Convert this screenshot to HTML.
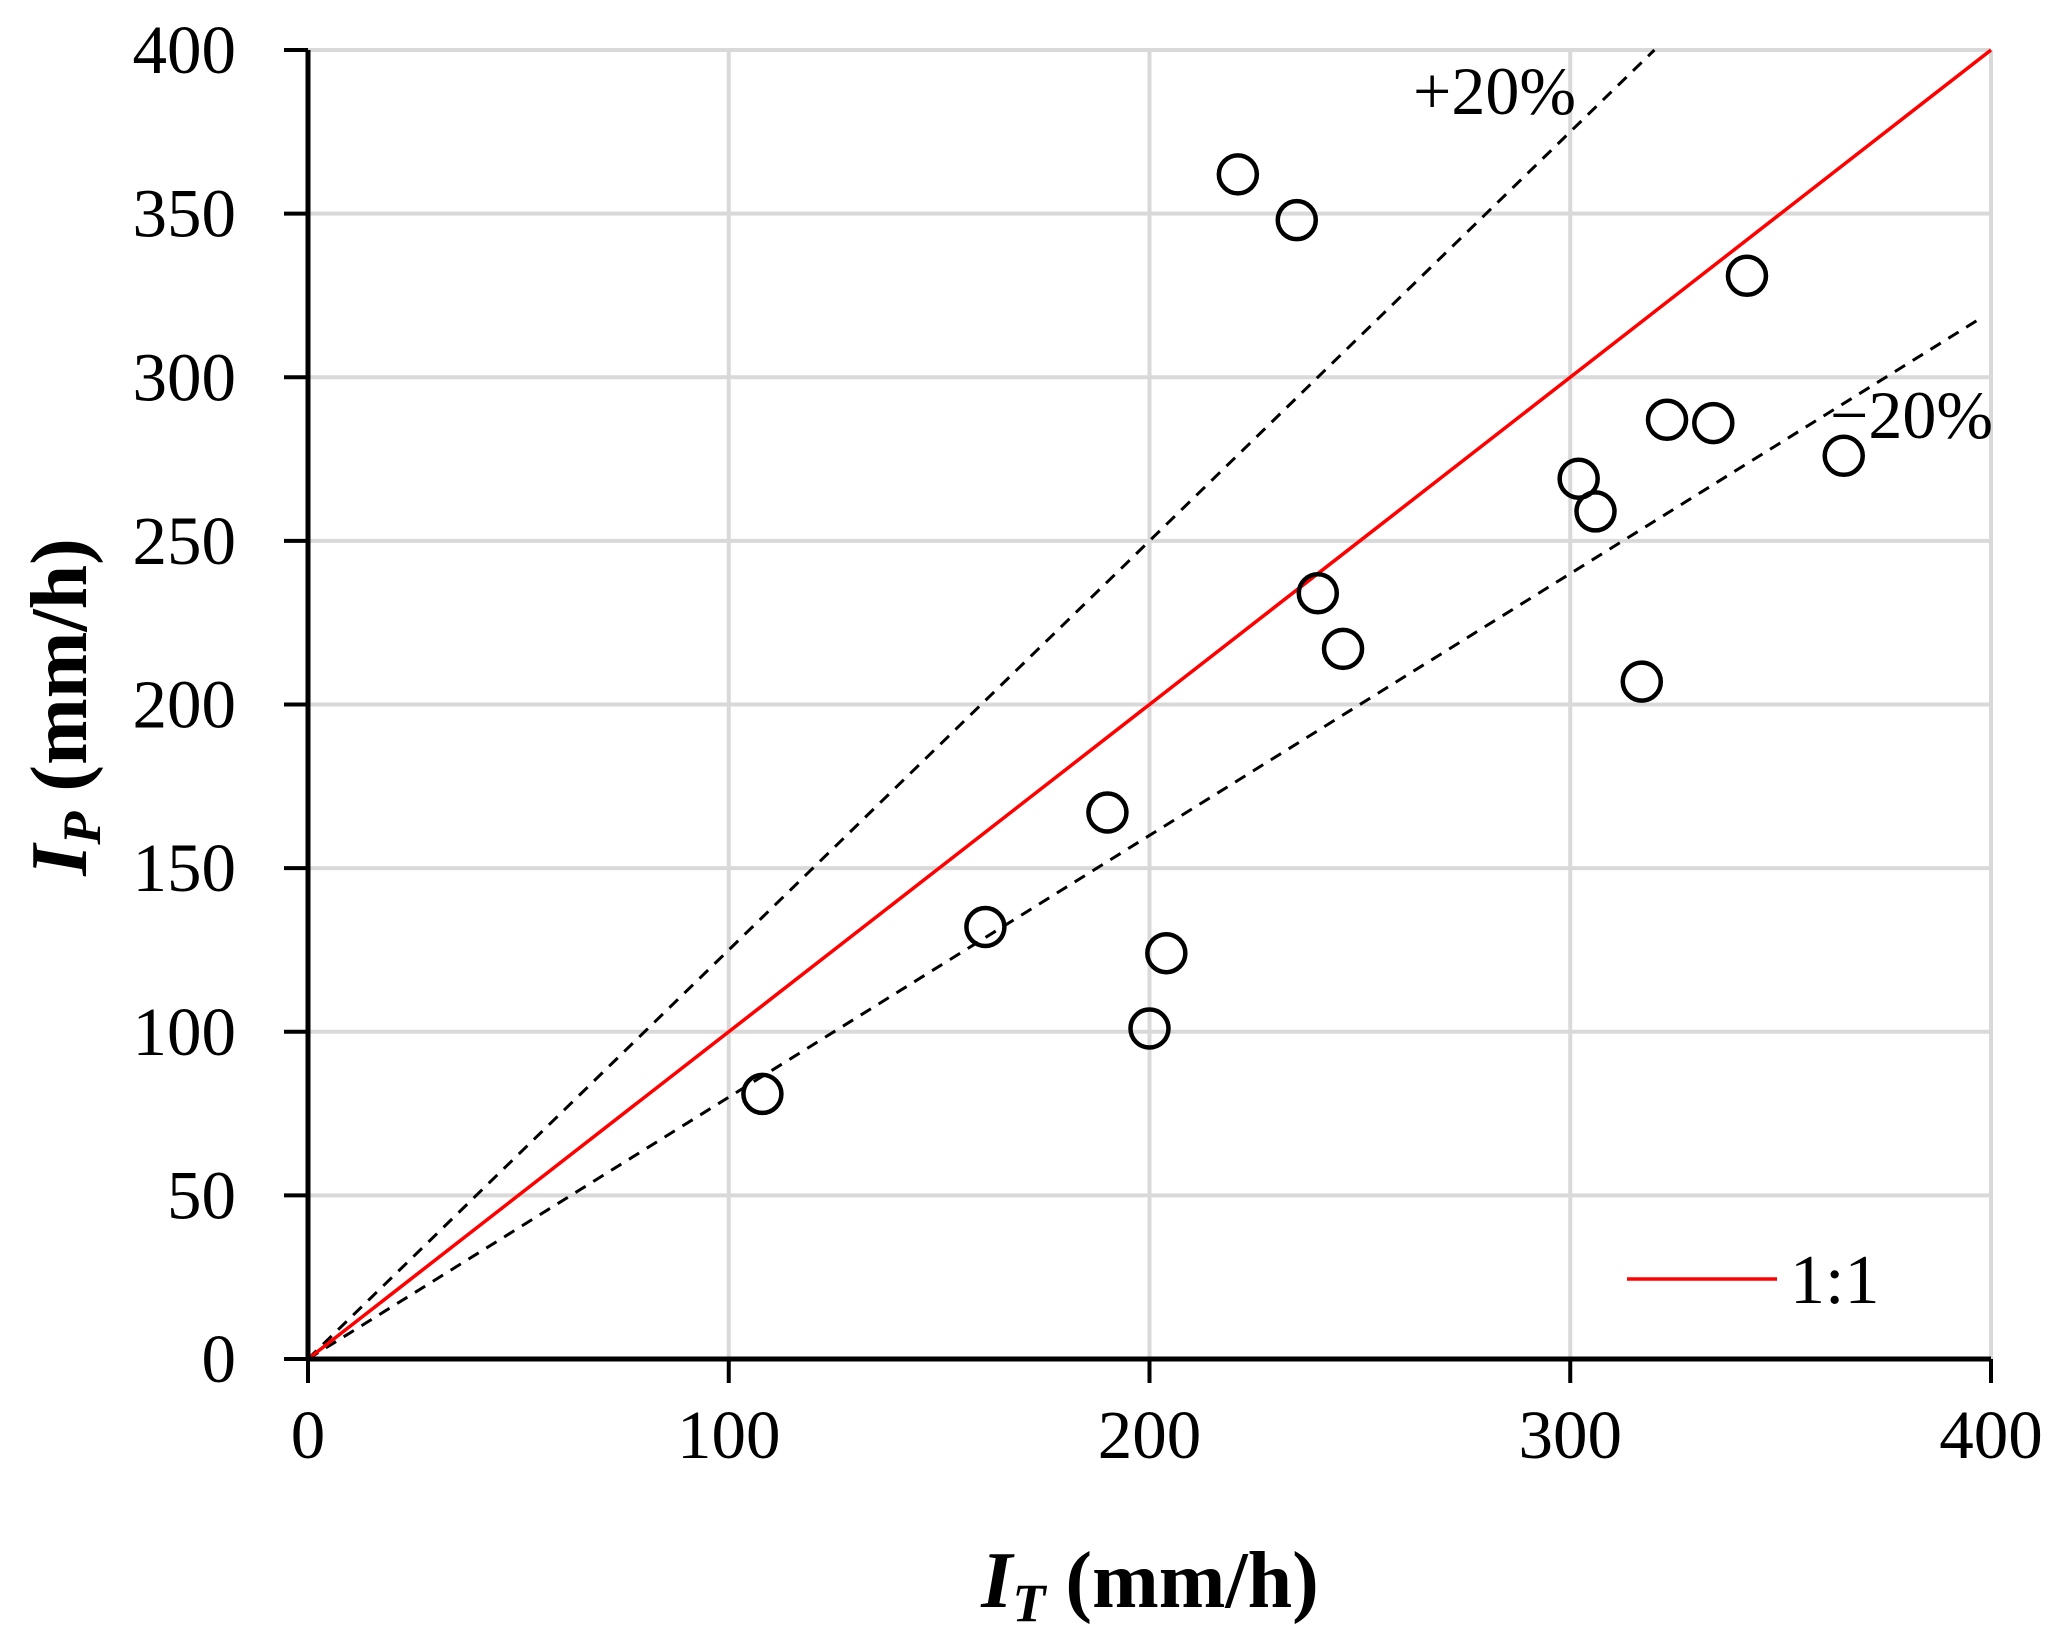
<!DOCTYPE html>
<html><head><meta charset="utf-8"><style>
body{margin:0;background:#fff}
svg text{font-family:"Liberation Serif",serif;fill:#000}
</style></head><body>
<svg width="2067" height="1641" viewBox="0 0 2067 1641">
<g id="grid"></g>
<g id="lines"></g>
<g id="axes"></g>
<g id="pts"></g>
<text x="1413" y="114" font-size="68">+20%</text>
<text x="1830" y="438" font-size="68">−20%</text>
<line x1="1627" y1="1279" x2="1777" y2="1279" stroke="#ff0000" stroke-width="3.5"/>
<text x="1790" y="1303" font-size="70">1:1</text>
<text x="1150" y="1607" font-size="80" font-weight="bold" text-anchor="middle"><tspan font-style="italic">I</tspan><tspan font-style="italic" font-size="54" dy="14">T</tspan><tspan dy="-14"> (mm/h)</tspan></text>
<text transform="translate(86,707) rotate(-90)" font-size="80" font-weight="bold" text-anchor="middle"><tspan font-style="italic">I</tspan><tspan font-style="italic" font-size="54" dy="14">P</tspan><tspan dy="-14"> (mm/h)</tspan></text>
</svg>
<script>
const xTicks=[0,100,200,300,400];
const yTicks=[0,50,100,150,200,250,300,350,400];
const obsT=[108,161,190,200,204,221,235,240,246,302,306,317,323,334,342,365];
const predP=[81,132,167,101,124,362,348,234,217,269,259,207,287,286,331,276];
const X=v=>308+v*(1991-308)/400;
const Y=v=>1359-v*(1359-50)/400;
const NS="http://www.w3.org/2000/svg";
function mk(t,a,p){const e=document.createElementNS(NS,t);for(const k in a)e.setAttribute(k,a[k]);p.appendChild(e);return e;}
const grid=document.getElementById('grid'),axes=document.getElementById('axes'),lines=document.getElementById('lines'),pts=document.getElementById('pts');
xTicks.forEach(v=>{
 if(v>0){const g=mk('line',{x1:X(v),y1:Y(0),x2:X(v),y2:Y(400),stroke:'#d9d9d9','stroke-width':4},grid);
 
 }
 const t=mk('line',{x1:X(v),y1:Y(0),x2:X(v),y2:Y(0)+24,stroke:'#000','stroke-width':4},axes);
 
 
 const l=mk('text',{x:X(v),y:1458,'font-size':69,'text-anchor':'middle'},axes);l.textContent=v;
 
 
});
yTicks.forEach(v=>{
 if(v>0){const g=mk('line',{x1:X(0),y1:Y(v),x2:X(400),y2:Y(v),stroke:'#d9d9d9','stroke-width':4},grid);
 
 }
 const t=mk('line',{x1:X(0)-24,y1:Y(v),x2:X(0),y2:Y(v),stroke:'#000','stroke-width':4},axes);
 
 
 const l=mk('text',{x:236,y:Y(v)+23,'font-size':69,'text-anchor':'end'},axes);l.textContent=v;
 
 
});
const xa=mk('line',{x1:X(0),y1:Y(0),x2:X(400),y2:Y(0),stroke:'#000','stroke-width':5},axes);


const ya=mk('line',{x1:X(0),y1:Y(0),x2:X(0),y2:Y(400),stroke:'#000','stroke-width':5},axes);


const up=mk('line',{x1:X(0),y1:Y(0),x2:X(320),y2:Y(400),stroke:'#000','stroke-width':3,'stroke-dasharray':'12 9'},lines);


const dn=mk('line',{x1:X(0),y1:Y(0),x2:X(398),y2:Y(318.4),stroke:'#000','stroke-width':3,'stroke-dasharray':'12 9'},lines);


const one=mk('line',{x1:X(0),y1:Y(0),x2:X(400),y2:Y(400),stroke:'#ff0000','stroke-width':3.5},lines);


obsT.forEach((v,i)=>{
 const c=mk('circle',{cx:X(v),cy:Y(predP[i]),r:19,fill:'none',stroke:'#000','stroke-width':4.5},pts);
 
 
});
</script>
</body></html>
